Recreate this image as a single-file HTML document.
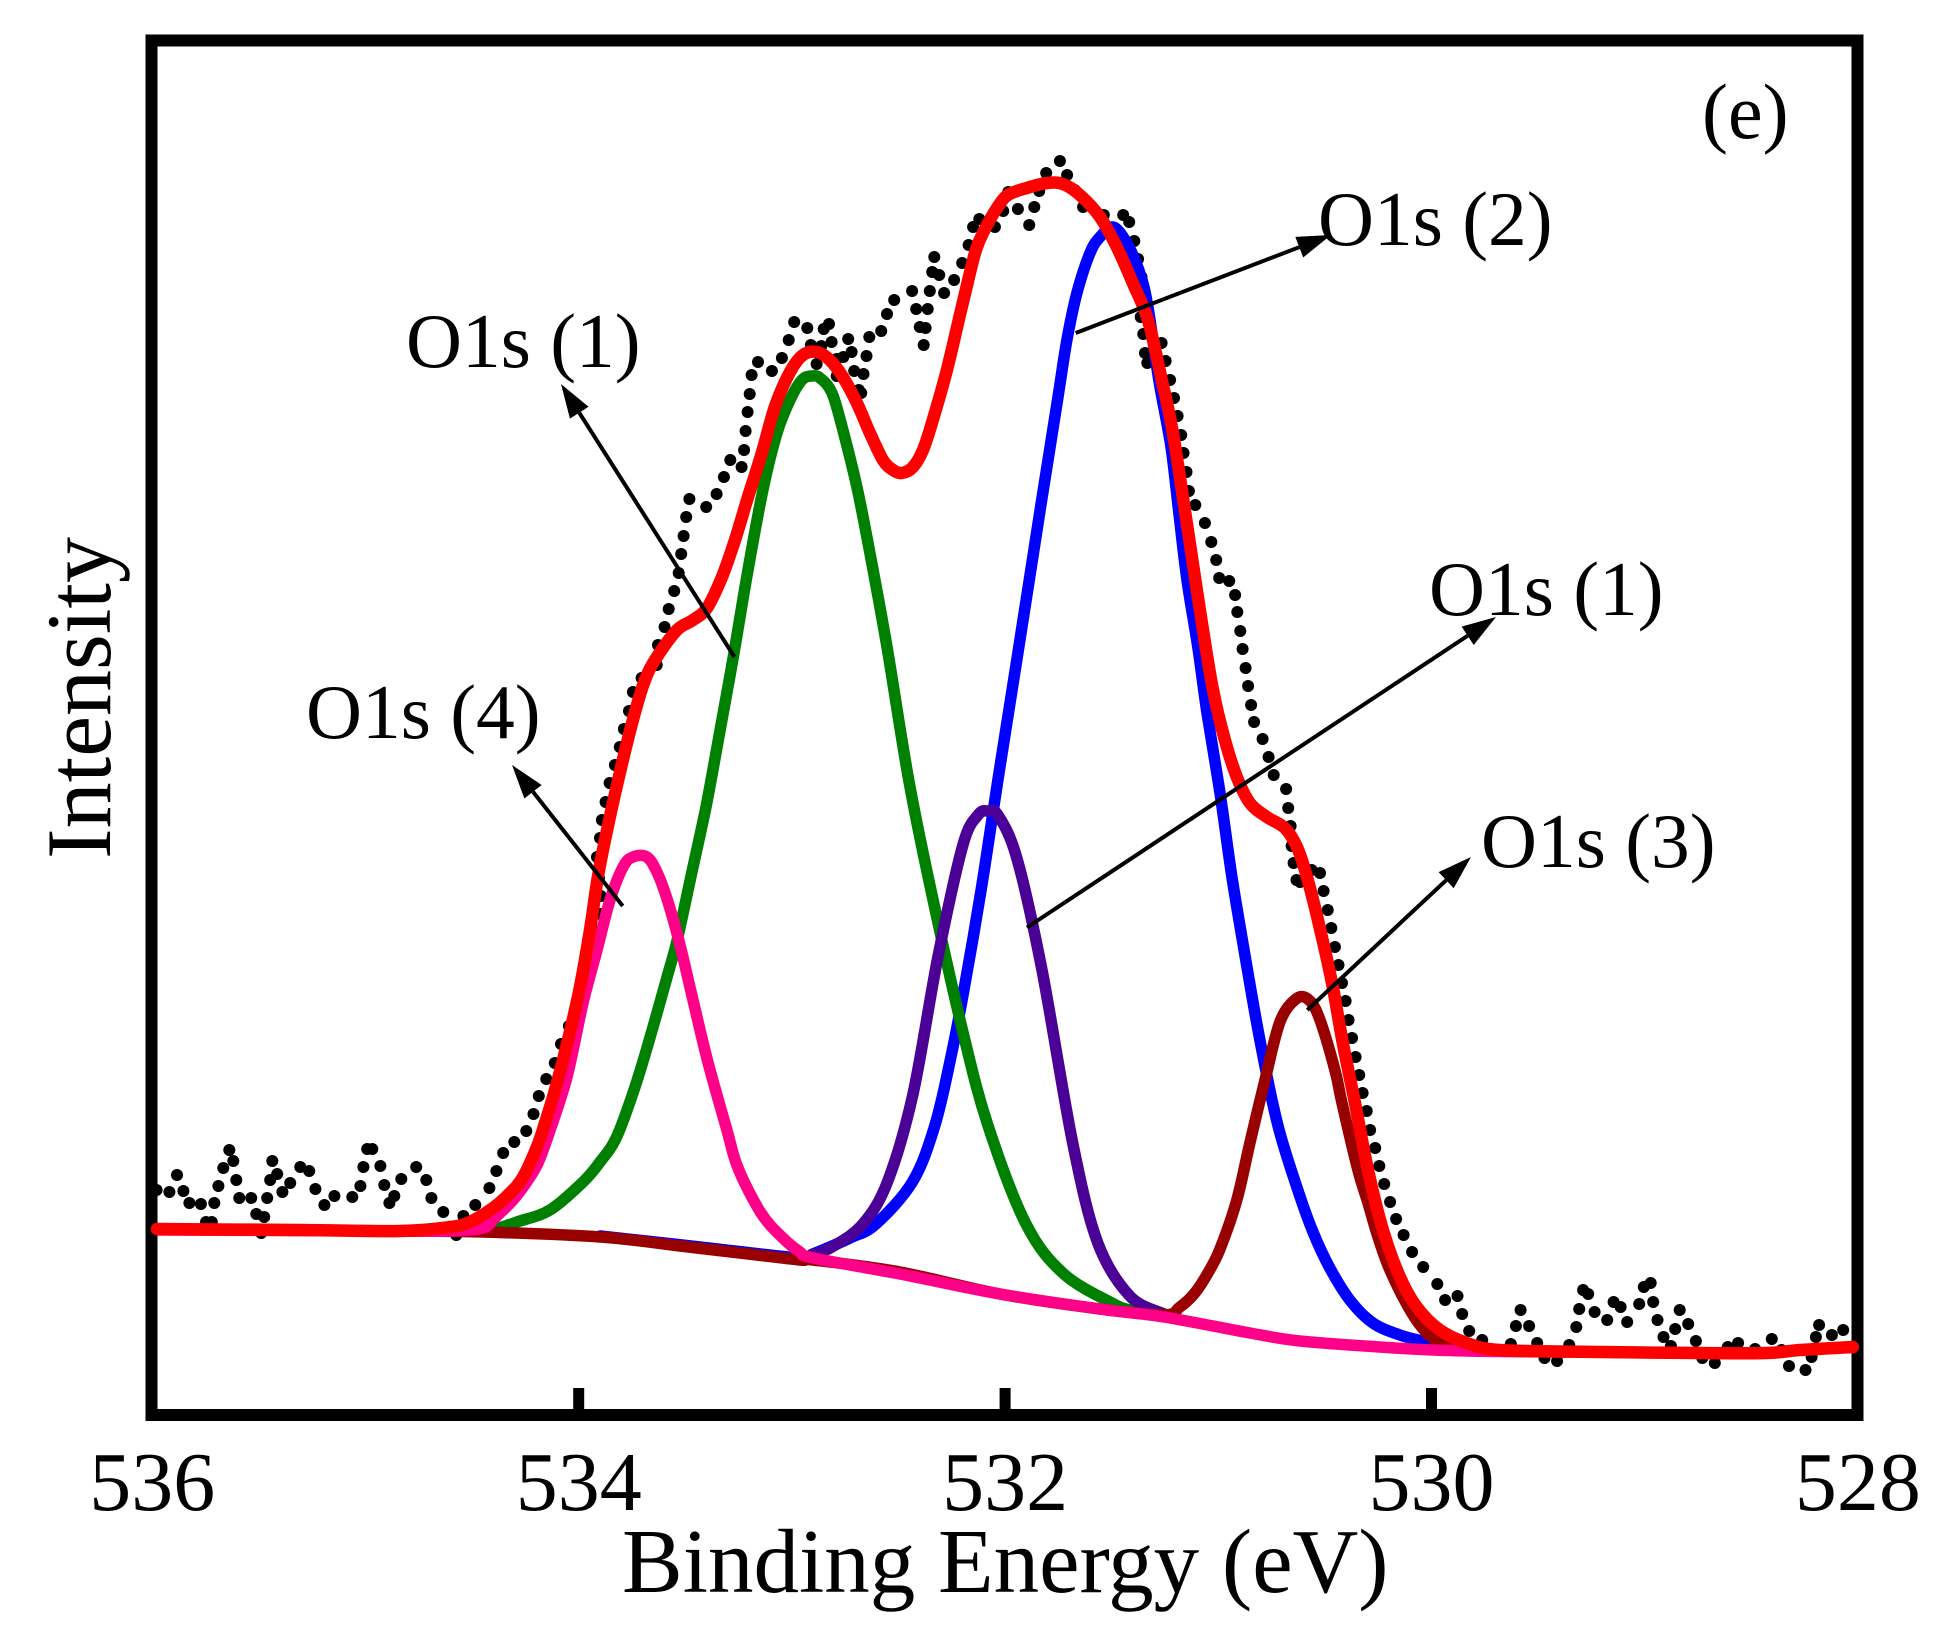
<!DOCTYPE html>
<html lang="en">
<head>
<meta charset="utf-8">
<title>O1s XPS spectrum</title>
<style>
html,body{margin:0;padding:0;background:#fff;}
svg{display:block;}
text{font-family:"Liberation Serif",serif;fill:#000;}
</style>
</head>
<body>
<svg id="chart" xmlns="http://www.w3.org/2000/svg" width="1952" height="1649" viewBox="0 0 1952 1649">
<rect x="0" y="0" width="1952" height="1649" fill="#fff"/>
<rect x="151.5" y="40.5" width="1706" height="1374.5" fill="none" stroke="#000" stroke-width="12"/>
<g id="ticks"></g>
<g id="dots"></g>
<g id="curves"></g>
<g id="arrows"></g>
<text x="1702" y="138" font-size="78">(e)</text>
<text x="1318" y="245" font-size="77.5">O1s (2)</text>
<text x="406" y="367" font-size="77.5">O1s (1)</text>
<text x="1429" y="615" font-size="77.5">O1s (1)</text>
<text x="306" y="738" font-size="77.5">O1s (4)</text>
<text x="1481" y="867" font-size="77.5">O1s (3)</text>
<text x="622" y="1592" font-size="91">Binding Energy (eV)</text>
<text transform="translate(110,859) rotate(-90)" x="0" y="0" font-size="92">Intensity</text>
</svg>
<script>
const tickValues = [536, 534, 532, 530, 528];
const tickLabels = ['536', '534', '532', '530', '528'];

const observedEV = [
535.98,535.92,535.884,535.854,535.826,535.772,535.748,535.721,535.709,535.69,
535.667,535.639,535.62,535.606,535.592,535.536,535.512,535.489,535.475,535.461,
535.447,535.437,535.414,535.39,535.353,535.306,535.264,535.235,535.193,535.146,
535.062,535.024,535.01,534.992,534.968,534.93,534.912,534.888,534.865,534.832,
534.762,534.715,534.691,534.635,534.574,534.541,534.485,534.419,534.386,534.354,
534.302,534.246,534.212,534.187,534.152,534.112,534.083,534.046,534.013,533.975,
533.947,533.933,533.914,533.9,533.896,533.905,533.914,533.9,533.891,533.874,
533.855,533.83,533.807,533.788,533.764,533.746,533.705,533.634,533.628,533.597,
533.578,533.552,533.531,533.519,533.508,533.496,533.481,533.402,533.353,533.319,
533.289,533.236,533.224,533.217,533.208,533.198,533.189,533.159,533.094,533.047,
533.015,532.989,532.928,532.911,532.884,532.862,532.851,532.826,532.814,532.79,
532.79,532.759,532.736,532.72,532.708,532.686,532.675,532.664,532.65,532.637,
532.581,532.554,532.52,532.436,532.417,532.4,532.382,532.373,532.363,532.353,
532.342,532.332,532.309,532.286,532.239,532.201,532.171,532.15,532.121,532.048,
532.009,531.985,531.94,531.887,531.863,531.84,531.807,531.743,531.709,531.673,
531.634,531.537,531.485,531.446,531.418,531.394,531.376,531.36,531.344,531.364,
531.352,531.344,531.333,531.266,531.247,531.226,531.208,531.191,531.174,531.163,
531.149,531.138,531.108,531.063,531.033,531.01,530.996,530.949,530.921,530.911,
530.897,530.886,530.872,530.86,530.846,530.832,530.792,530.764,530.74,530.682,
530.672,530.661,530.656,530.647,530.633,530.617,530.562,530.523,530.506,530.487,
530.47,530.453,530.436,530.42,530.403,530.389,530.373,530.356,530.339,530.323,
530.304,530.288,530.264,530.245,530.222,530.194,530.166,530.131,530.091,530.039,
529.973,529.936,529.878,529.856,529.823,529.762,529.628,529.604,529.582,529.542,
529.504,529.47,529.411,529.354,529.321,529.307,529.289,529.265,529.235,529.176,
529.146,529.113,529.082,529.026,529.004,528.972,528.96,528.94,528.912,528.877,
528.857,528.836,528.796,528.76,528.73,528.671,528.61,528.562,528.482,528.404,
528.358,528.323,528.246,528.217,528.197,528.182,528.122,528.069];
const observedIntensity = [
225,223,240,224,212,211,193,193,212,229,
247,265,254,235,217,217,201,182,198,217,
235,254,241,223,232,248,244,226,210,219,
218,229,248,266,266,249,230,212,219,236,
248,235,217,203,180,199,210,227,244,262,
273,284,301,319,336,352,371,389,407,425,
447,465,483,501,519,537,558,577,595,613,
632,650,668,686,704,723,737,750,770,788,
806,824,842,861,879,898,916,908,921,938,
955,948,965,984,1003,1021,1040,1053,1044,1057,
1075,1093,1087,1070,1051,1069,1086,1091,1073,1056,
1039,1058,1076,1063,1044,1025,1022,1041,1059,1078,
1084,1101,1115,1124,1106,1088,1070,1087,1106,1124,
1143,1158,1140,1122,1135,1152,1170,1188,1196,1188,
1204,1223,1206,1190,1208,1224,1242,1254,1240,1225,
1208,1200,1187,1200,1193,1174,1156,1138,1118,1098,
1081,1062,1052,1072,1054,1035,1017,999,980,962,
943,924,910,892,873,855,837,834,820,803,
784,766,747,729,710,693,676,658,640,626,
607,589,569,552,535,533,545,542,524,505,
487,468,450,432,414,395,377,358,340,322,
304,285,267,249,231,213,196,180,163,148,
131,115,119,101,84,75,71,89,105,89,
72,57,54,70,88,106,125,121,103,95,
113,108,93,111,128,132,113,95,78,69,
86,105,91,74,57,52,68,72,66,76,
65,49,45,58,78,90,80,85];

const peak2EV = [533.9,533.431,532.962,532.901,532.728,532.606,532.432,532.329,532.254,532.189,532.109,532.034,531.945,531.832,531.752,531.71,531.663,531.602,531.555,531.494,531.429,531.368,531.33,531.279,531.222,531.185,531.147,531.096,531.053,530.992,530.936,530.875,530.805,530.721,530.627,530.556,530.477,530.383,530.275,530.148,530.022,529.867];
const peak2Intensity = [179,168,157,161,177,191,234,290,358,430,530,635,755,910,1018,1075,1122,1162,1178,1188,1172,1142,1108,1035,968,902,835,768,702,622,538,460,375,290,225,183,147,115,92,80,73,66];

const peak1EV = [534.416,534.29,534.135,533.98,533.9,533.822,533.736,533.669,533.58,533.538,533.47,533.403,533.345,533.275,533.206,533.136,533.07,533.009,532.953,532.906,532.868,532.812,532.761,532.695,532.634,532.554,532.451,532.343,532.198,532.081,531.902,531.724,531.49,531.415];
const peak1Intensity = [184,193,205,233,253,278,328,375,442,475,542,608,675,758,845,925,982,1015,1035,1039,1037,1022,985,928,862,768,634,520,383,290,191,141,111,105];

const peak1bEV = [532.915,532.812,532.667,532.55,532.432,532.315,532.198,532.127,532.081,532.034,531.945,531.827,531.682,531.565,531.415,531.255];
const peak1bIntensity = [159,168,191,234,321,458,570,600,604,600,557,445,271,172,119,101];

const peak3EV = [535.97,534.838,534.449,533.9,533.525,533.244,532.962,532.901,532.493,532.024,531.555,531.255,531.18,531.11,531.049,530.992,530.913,530.852,530.781,530.711,530.636,530.58,530.528,530.453,530.42,530.345,530.298,530.251,530.195,530.101,530.022,529.947,529.82,528.741];
const peak3Intensity = [186,184,183,178,169,162,155,155,143,121,106,100,108,122,142,166,215,272,335,393,416,416,398,345,312,245,212,178,145,105,82,72,65,62];

const peak4EV = [535.97,534.838,534.604,534.449,534.393,534.308,534.247,534.191,534.139,534.055,533.98,533.914,533.853,533.792,533.746,533.68,533.633,533.581,533.525,533.464,533.394,533.305,533.253,533.145,533.042,532.962,532.901,532.493,532.024,531.555,531.255,530.852,530.617,530.242,529.994,529.679,528.741];
const peak4Intensity = [185,184,184,187,197,215,232,252,282,338,412,465,515,548,558,558,543,513,470,415,353,285,247,202,177,163,157,141,121,106,98,82,74,68,65,63.5,62];

const envelopeEV = [535.978,535.307,534.838,534.604,534.51,534.402,534.322,534.261,534.196,534.158,534.111,534.05,533.994,533.947,533.91,533.867,533.807,533.746,533.689,533.633,533.539,533.464,533.398,533.328,533.267,533.206,533.141,533.08,533.009,532.948,532.883,532.822,532.761,532.695,532.634,532.573,532.526,532.484,532.432,532.385,532.339,532.273,532.212,532.165,532.137,532.104,532.038,531.987,531.898,531.804,531.729,531.649,531.555,531.476,531.401,531.33,531.265,531.218,531.171,531.124,531.077,531.025,530.969,530.913,530.852,530.772,530.688,530.631,530.58,530.514,530.463,530.416,530.359,530.298,530.228,530.148,530.069,529.961,529.834,529.679,529.21,528.741,528.427,528.272,528.024];
const envelopeIntensity = [186,185,184,188,193,207,222,238,268,292,325,375,428,485,538,585,642,695,735,758,785,795,807,838,875,918,962,1008,1043,1060,1063,1055,1038,1012,982,955,945,942,948,965,995,1045,1100,1142,1165,1182,1207,1220,1227,1232,1231,1220,1198,1168,1132,1095,1035,988,925,858,792,725,675,638,612,598,587,568,535,478,428,372,312,245,185,138,108,85,72,65,63,62,62,65,68];

const xScale = function (v) { return 152.3 + (536 - v) * 213.2; };
const yScale = function (i) { return 1415 - i; };

const NS = 'http://www.w3.org/2000/svg';

function smoothPath(xs, ys) {
  const p = xs.map(function (x, i) { return [xScale(x), yScale(ys[i])]; });
  let d = 'M' + p[0][0].toFixed(1) + ' ' + p[0][1].toFixed(1);
  for (let i = 0; i < p.length - 1; i++) {
    const a = p[Math.max(0, i - 1)], b = p[i], c = p[i + 1], e = p[Math.min(p.length - 1, i + 2)];
    const c1x = b[0] + (c[0] - a[0]) / 6, c1y = b[1] + (c[1] - a[1]) / 6;
    const c2x = c[0] - (e[0] - b[0]) / 6, c2y = c[1] - (e[1] - b[1]) / 6;
    d += 'C' + c1x.toFixed(1) + ' ' + c1y.toFixed(1) + ' ' + c2x.toFixed(1) + ' ' + c2y.toFixed(1) + ' ' + c[0].toFixed(1) + ' ' + c[1].toFixed(1);
  }
  return d;
}

const dotLayer = document.getElementById('dots');
observedEV.forEach(function (v, i) {
  const el = document.createElementNS(NS, 'circle');
  
  
  el.setAttribute('cx', xScale(v).toFixed(1));
  el.setAttribute('cy', yScale(observedIntensity[i]).toFixed(1));
  el.setAttribute('r', '6');
  el.setAttribute('fill', '#000');
  dotLayer.appendChild(el);
});

const curveLayer = document.getElementById('curves');
function addCurve(name, xs, ys, color, width) {
  const el = document.createElementNS(NS, 'path');
  
  
  el.setAttribute('d', smoothPath(xs, ys));
  el.setAttribute('fill', 'none');
  el.setAttribute('stroke', color);
  el.setAttribute('stroke-width', width);
  el.setAttribute('stroke-linejoin', 'round');
  el.setAttribute('stroke-linecap', 'round');
  curveLayer.appendChild(el);
}
addCurve('curve-o1s-2-blue', peak2EV, peak2Intensity, '#0000ff', 11.5);
addCurve('curve-o1s-1-green', peak1EV, peak1Intensity, '#008000', 11.5);
addCurve('curve-o1s-1-indigo', peak1bEV, peak1bIntensity, '#4b0096', 11.5);
addCurve('curve-o1s-3-darkred', peak3EV, peak3Intensity, '#990000', 11.5);
addCurve('curve-o1s-4-pink', peak4EV, peak4Intensity, '#ff0088', 11.5);
addCurve('curve-envelope-red', envelopeEV, envelopeIntensity, '#ff0000', 12.5);

const tickLayer = document.getElementById('ticks');
tickValues.forEach(function (v, i) {
  if (i > 0 && i < tickValues.length - 1) {
    const mark = document.createElementNS(NS, 'line');
    
    
    mark.setAttribute('x1', xScale(v));
    mark.setAttribute('x2', xScale(v));
    mark.setAttribute('y1', 1388);
    mark.setAttribute('y2', 1410);
    mark.setAttribute('stroke', '#000');
    mark.setAttribute('stroke-width', 11);
    tickLayer.appendChild(mark);
  }
  const label = document.createElementNS(NS, 'text');
  
  
  label.setAttribute('x', xScale(v));
  label.setAttribute('y', 1510);
  label.setAttribute('font-size', 84);
  label.setAttribute('text-anchor', 'middle');
  label.textContent = tickLabels[i];
  tickLayer.appendChild(label);
});

const arrowLayer = document.getElementById('arrows');
function addArrow(name, x1, y1, x2, y2) {
  const dx = x2 - x1, dy = y2 - y1, len = Math.hypot(dx, dy);
  const ux = dx / len, uy = dy / len, headLength = 34, headHalf = 11;
  const bx = x2 - ux * headLength, by = y2 - uy * headLength;
  const shaft = document.createElementNS(NS, 'line');
  
  
  shaft.setAttribute('x1', x1);
  shaft.setAttribute('y1', y1);
  shaft.setAttribute('x2', bx);
  shaft.setAttribute('y2', by);
  shaft.setAttribute('stroke', '#000');
  shaft.setAttribute('stroke-width', 4);
  arrowLayer.appendChild(shaft);
  const head = document.createElementNS(NS, 'polygon');
  
  
  head.setAttribute('points', x2 + ',' + y2 + ' ' + (bx - uy * headHalf) + ',' + (by + ux * headHalf) + ' ' + (bx + uy * headHalf) + ',' + (by - ux * headHalf));
  head.setAttribute('fill', '#000');
  arrowLayer.appendChild(head);
}
addArrow('arrow-o1s-1-left', 734.5, 657, 561, 384);
addArrow('arrow-o1s-2', 1075.7, 333, 1331, 235);
addArrow('arrow-o1s-1-right', 1027, 927.5, 1496, 617);
addArrow('arrow-o1s-3', 1307.3, 1010, 1471, 857);
addArrow('arrow-o1s-4', 622.7, 906, 512, 765);
</script>
</body>
</html>
